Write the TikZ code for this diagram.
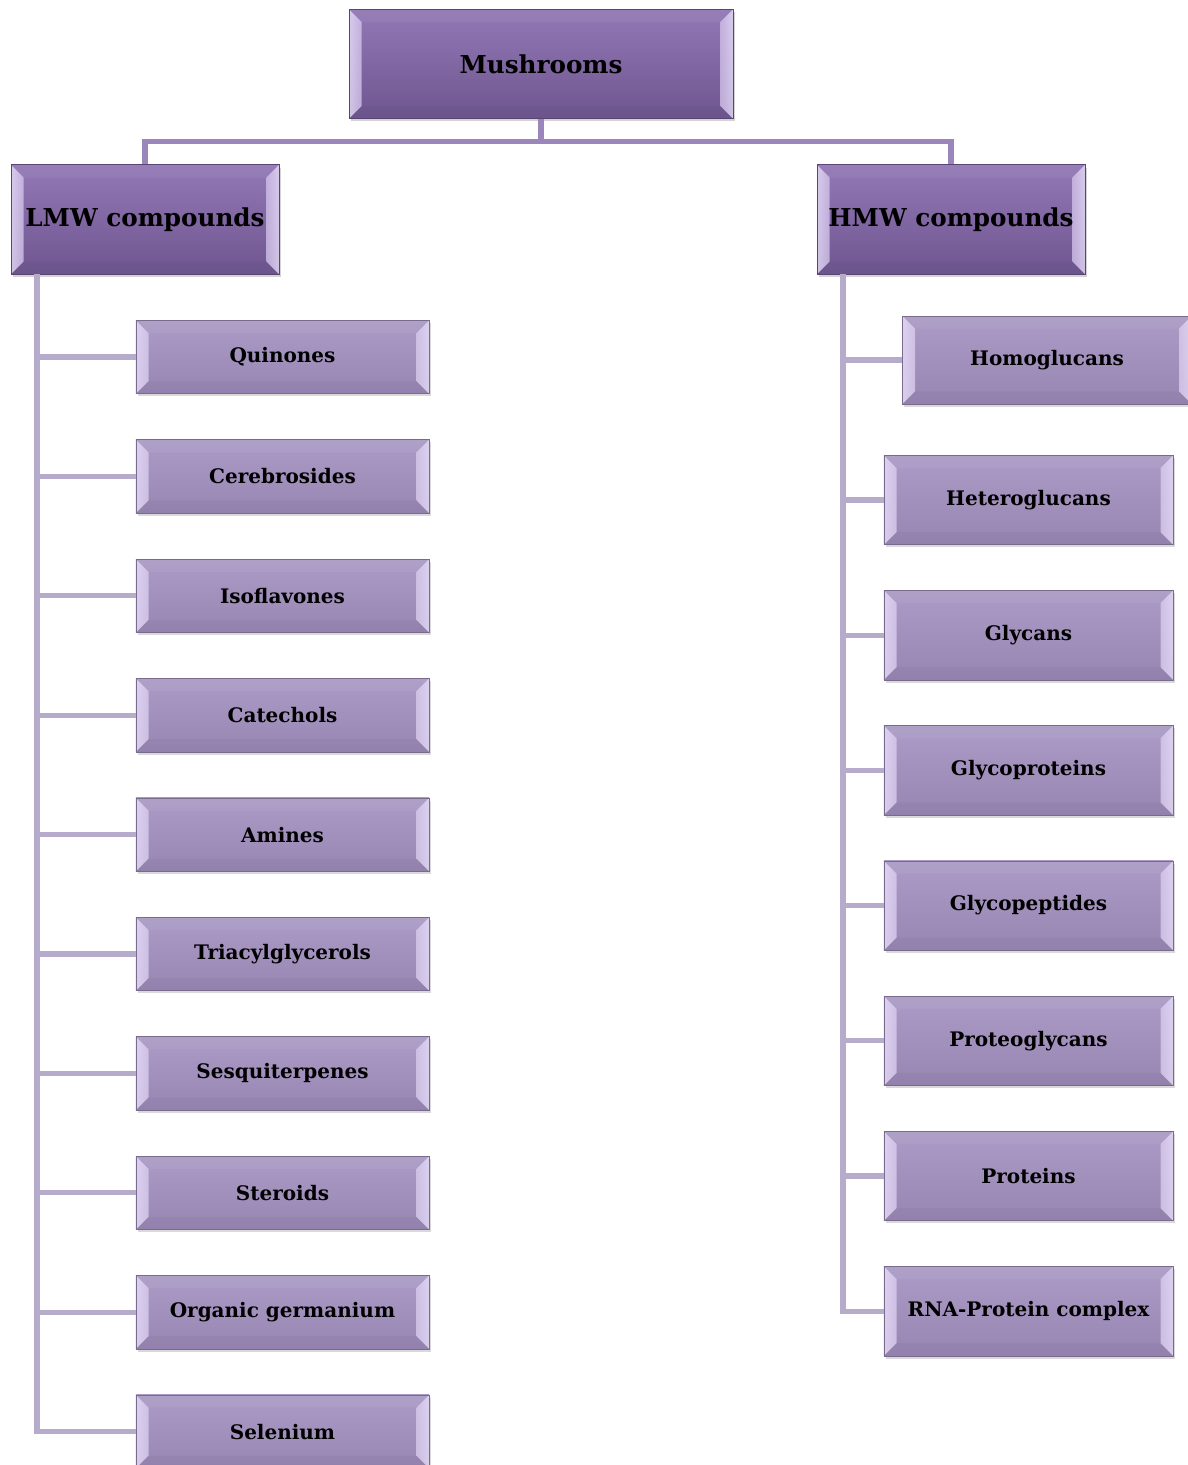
\documentclass[tikz,border=0pt]{standalone}
\usepackage{fontspec}
\setmainfont{DejaVu Serif}
\usetikzlibrary{shadows}
\definecolor{topA}{HTML}{9278B5}
\definecolor{topB}{HTML}{6F5690}
\definecolor{subA}{HTML}{AB9BC6}
\definecolor{subB}{HTML}{9786B2}
\definecolor{rootline}{HTML}{9A86BA}
\definecolor{branchline}{HTML}{B7ABCC}
\definecolor{bevlight}{HTML}{EADFFC}
\def\bw{9.5pt}
\tikzset{
  bevel/.style={
    path picture={
      \path (path picture bounding box.north west) coordinate (p1)
            (path picture bounding box.south east) coordinate (p2);
      \fill[white,opacity=0.05] (p1) -- (p2|-p1) -- ([shift={(-\bw,-\bw)}]p2|-p1)
            -- ([shift={(\bw,-\bw)}]p1) -- cycle;
      \fill[black,opacity=0.03] (p1|-p2) -- (p2) -- ([shift={(-\bw,\bw)}]p2)
            -- ([shift={(\bw,\bw)}]p1|-p2) -- cycle;
      \shade[left color=bevlight, right color=bevlight!70!#1, opacity=0.8]
            (p1) -- ([shift={(\bw,-\bw)}]p1)
            -- ([shift={(\bw,\bw)}]p1|-p2) -- (p1|-p2) -- cycle;
      \shade[left color=bevlight!70!#1, right color=bevlight, opacity=0.8]
            (p2|-p1) -- ([shift={(-\bw,-\bw)}]p2|-p1)
            -- ([shift={(-\bw,\bw)}]p2) -- (p2) -- cycle;
    }},
  mainbox/.style={rectangle, bevel=topA, draw=topB!80!black, line width=0.6pt,
    top color=topA, bottom color=topB, inner sep=0pt,
    drop shadow={opacity=0.35, shadow xshift=1.5pt, shadow yshift=-2pt},
    font=\fontsize{18.5}{22}\selectfont\bfseries},
  subbox/.style={rectangle, bevel=subA, draw=subB!80!black, line width=0.5pt,
    top color=subA, bottom color=subB, inner sep=0pt,
    drop shadow={opacity=0.3, shadow xshift=1.5pt, shadow yshift=-2pt},
    font=\fontsize{15}{18}\selectfont\bfseries},
  rootlink/.style={rootline, line width=3.8pt},
  sublink/.style={branchline, line width=3.8pt},
}
\begin{document}
\begin{tikzpicture}[x=0.75pt,y=-0.75pt]
\useasboundingbox (0,0) rectangle (1188,1465);
% top level
\node[mainbox, minimum width=288pt, minimum height=82pt] (mush) at (541,64) {Mushrooms};
\node[mainbox, minimum width=201pt, minimum height=82pt] (lmw) at (145,219.5) {LMW compounds};
\node[mainbox, minimum width=201pt, minimum height=82pt] (hmw) at (951,219.5) {HMW compounds};
\draw[rootlink] (mush.south) -- ++(0,22) -| (lmw.north);
\draw[rootlink] (mush.south) -- ++(0,22) -| (hmw.north);
% LMW side
\coordinate (ltrunk) at (37,274);
\foreach \name [count=\i] in {Quinones,Cerebrosides,Isoflavones,Catechols,Amines,
    Triacylglycerols,Sesquiterpenes,Steroids,Organic germanium,Selenium} {
  \draw[sublink] (ltrunk) |- (282.5,{357+(\i-1)*119.4});
  \node[subbox, minimum width=220pt, minimum height=55pt] (l\i) at (282.5,{357+(\i-1)*119.4}) {\name};
}
% HMW side
\coordinate (htrunk) at (843,274);
\draw[sublink] (htrunk) |- (1047,360);
\node[subbox, minimum width=217pt, minimum height=66pt] (h1) at (1047,360) {Homoglucans};
\foreach \name [count=\i from 2] in {Heteroglucans,Glycans,Glycoproteins,Glycopeptides,
    Proteoglycans,Proteins,RNA-Protein complex} {
  \draw[sublink] (htrunk) |- (1028.5,{500+(\i-2)*135.2});
  \node[subbox, minimum width=217pt, minimum height=67pt] (h\i) at (1028.5,{500+(\i-2)*135.2}) {\name};
}
\end{tikzpicture}
\end{document}
